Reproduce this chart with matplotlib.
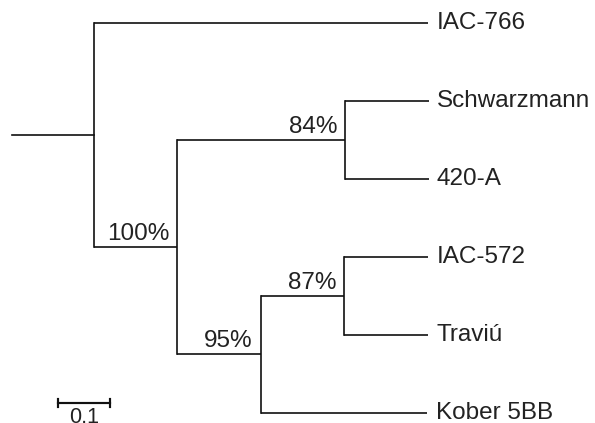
import matplotlib
matplotlib.use("Agg")
import matplotlib.pyplot as plt

# tips, top to bottom, with their terminal branch lengths and parent clade
leaves = ["IAC-766", "Schwarzmann", "420-A", "IAC-572", "Traviú", "Kober 5BB"]
leaf_len = [0.642, 0.160, 0.160, 0.162, 0.162, 0.321]
leaf_parent = ["root", "n84", "n84", "n87", "n87", "n95"]

# internal clades (root first), branch lengths and bootstrap support
clades = ["root", "n100", "n84", "n95", "n87"]
clade_parent = [None, "root", "n100", "n100", "n95"]
clade_len = [0.158, 0.160, 0.323, 0.160, 0.160]
clade_support = [None, "100%", "84%", "95%", "87%"]

SCALE = 0.1
W, H, DPI = 595, 423, 100
PX = 520.0      # pixels per unit branch length
ROW = 78.0      # pixels between tips

# --- layout --------------------------------------------------------------
x = {}
for c, p, L in zip(clades, clade_parent, clade_len):
    x[c] = (0.0 if p is None else x[p]) + L
for name, p, L in zip(leaves, leaf_parent, leaf_len):
    x[name] = x[p] + L

y = {name: i for i, name in enumerate(leaves)}
children = {c: [] for c in clades}
for c, p in zip(clades, clade_parent):
    if p is not None:
        children[p].append(c)
for name, p in zip(leaves, leaf_parent):
    children[p].append(name)


def node_y(n):
    if n in y:
        return y[n]
    ys = [node_y(ch) for ch in children[n]]
    y[n] = (min(ys) + max(ys)) / 2.0
    return y[n]


node_y("root")

# --- draw ----------------------------------------------------------------
fig = plt.figure(figsize=(W / DPI, H / DPI), dpi=DPI)
ax = fig.add_axes([0, 0, 1, 1])
ax.set_xlim(-12 / PX, (W - 12) / PX)
ax.set_ylim((H - 23) / ROW, -23 / ROW)
ax.axis("off")

lw = 1.2
col = "#111111"
txt = "#222222"
font = ["Liberation Sans", "DejaVu Sans"]

# root stub
ax.plot([0, x["root"]], [y["root"], y["root"]], color=col, lw=lw)
for c in clades:
    ys = [y[ch] for ch in children[c]]
    ax.plot([x[c], x[c]], [min(ys), max(ys)], color=col, lw=lw)
    for ch in children[c]:
        ax.plot([x[c], x[ch]], [y[ch], y[ch]], color=col, lw=lw,
                solid_capstyle="butt")

for name in leaves:
    ax.annotate(name, (x[name], y[name]), xytext=(6, 0), textcoords="offset points",
                ha="left", va="center", fontsize=17.5, color=txt, family=font)

for c, s in zip(clades, clade_support):
    if s is None:
        continue
    ax.annotate(s, (x[c], y[c]), xytext=(-5.5, 1.5), textcoords="offset points",
                ha="right", va="bottom", fontsize=17.5, color=txt, family=font)

# scale bar
sx0, sy = (58 - 12) / PX, (403 - 23) / ROW
ax.plot([sx0, sx0 + SCALE], [sy, sy], color=col, lw=lw * 1.3)
ax.plot([sx0, sx0], [sy - 0.05, sy + 0.05], color=col, lw=lw * 1.3)
ax.plot([sx0 + SCALE] * 2, [sy - 0.05, sy + 0.05], color=col, lw=lw * 1.3)
ax.annotate(f"{SCALE:g}", (sx0 + SCALE / 2, sy), xytext=(0, -3), textcoords="offset points",
            ha="center", va="top", fontsize=15.5, color=txt, family=font)

fig.savefig("out.png", dpi=DPI)
